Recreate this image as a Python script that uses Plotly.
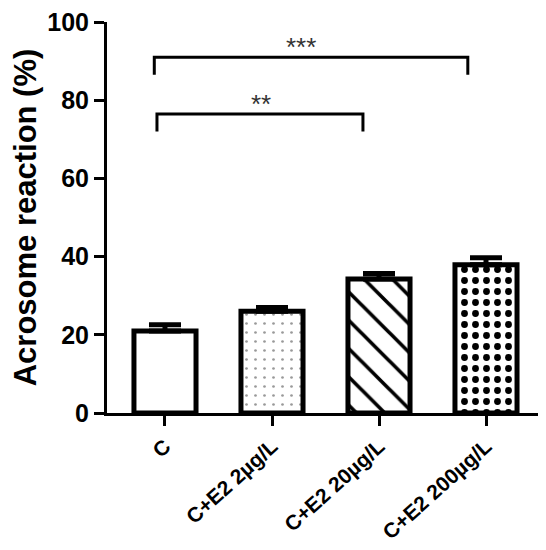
import plotly.graph_objects as go

categories = ["C", "C+E2 2µg/L", "C+E2 20µg/L", "C+E2 200µg/L"]
means = [21.0, 26.0, 34.3, 37.9]
sems = [1.6, 1.0, 1.4, 1.8]

pattern_shapes = ["", ".", "\\", "."]
pattern_fg = ["black", "#999999", "black", "black"]
pattern_sizes = [8, 9, 20, 11]
pattern_solid = [0.0, 0.07, 0.18, 0.3]

# significance brackets: left x, right x, top y, leg bottom y, star x, label
br_left = [-0.10, -0.075]
br_right = [2.83, 1.85]
br_top = [91.0, 76.5]
br_bottom = [86.5, 72.0]
star_x = [1.27, 0.90]
star_text = ["***", "**"]

FONT = "Arial, Liberation Sans, sans-serif"

fig = go.Figure()
for i, cat in enumerate(categories):
    fig.add_trace(go.Bar(
        x=[cat], y=[means[i]],
        width=0.58,
        marker=dict(
            color="white",
            line=dict(color="black", width=5),
            pattern=dict(shape=pattern_shapes[i], fgcolor=pattern_fg[i],
                         fgopacity=1, bgcolor="white", size=pattern_sizes[i],
                         solidity=pattern_solid[i], fillmode="overlay"),
        ),
        error_y=dict(type="data", array=[sems[i]], arrayminus=[0],
                     symmetric=False, color="black", thickness=5, width=16),
        showlegend=False,
    ))

shapes = []
annotations = []
for j in range(len(br_left)):
    shapes.append(dict(
        type="path", xref="x", yref="y",
        path=f"M {br_left[j]},{br_bottom[j]} L {br_left[j]},{br_top[j]} "
             f"L {br_right[j]},{br_top[j]} L {br_right[j]},{br_bottom[j]}",
        line=dict(color="black", width=3),
    ))
    annotations.append(dict(
        x=star_x[j], y=br_top[j], xref="x", yref="y",
        text=star_text[j], showarrow=False, yanchor="bottom", yshift=-7,
        font=dict(family=FONT, size=26, color="#333333"),
    ))

# page body has an 8px margin, so the figure is sized/offset to compensate
fig.update_layout(
    width=538, height=542,
    margin=dict(l=99, r=8, t=14, b=137),
    plot_bgcolor="white", paper_bgcolor="white",
    shapes=shapes, annotations=annotations,
    xaxis=dict(
        type="category", range=[-0.542, 3.486], automargin=False,
        showline=True, linecolor="black", linewidth=3,
        ticks="outside", ticklen=10, tickwidth=3, tickcolor="black",
        tickangle=-42, ticklabeloverflow="allow",
        tickfont=dict(family=FONT, size=21, color="black", weight="bold"),
        showgrid=False, zeroline=False,
    ),
    yaxis=dict(
        range=[0, 100], dtick=20, automargin=False,
        showline=True, linecolor="black", linewidth=3,
        ticks="outside", ticklen=10, tickwidth=3, tickcolor="black",
        ticklabeloverflow="allow",
        tickfont=dict(family=FONT, size=25, color="black", weight="bold"),
        title=dict(text="Acrosome reaction (%)", standoff=18,
                   font=dict(family=FONT, size=31, color="black", weight="bold")),
        showgrid=False, zeroline=False,
    ),
)

fig.write_html("out.html")
